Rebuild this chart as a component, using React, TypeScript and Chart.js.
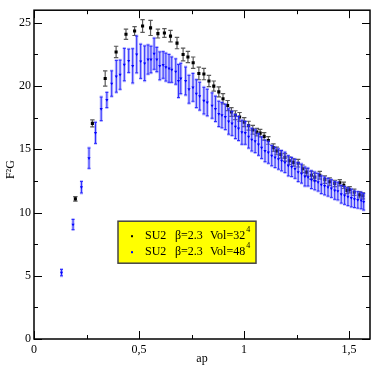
import React, { useEffect, useRef } from 'react';
import { Chart, registerables } from 'chart.js';
Chart.register(...registerables);

const xTickValues = [0, 0.5, 1, 1.5];
const yTickValues = [0, 5, 10, 15, 20, 25];
const xMinorTicks = [0.25, 0.75, 1.25];
const yMinorTicks = [2.5, 7.5, 12.5, 17.5, 22.5];

const vol32X = [0.197, 0.278, 0.339, 0.391, 0.438, 0.479, 0.517, 0.555, 0.590, 0.621, 0.650, 0.681, 0.710, 0.733, 0.758, 0.785, 0.809, 0.833, 0.856, 0.880, 0.900, 0.922, 0.940, 0.959, 0.979, 1.001, 1.022, 1.042, 1.061, 1.077, 1.096, 1.116, 1.140, 1.156, 1.175, 1.195, 1.216, 1.235, 1.258, 1.279, 1.298, 1.321, 1.337, 1.361, 1.385, 1.408, 1.432, 1.456, 1.475, 1.490, 1.503, 1.525, 1.550, 1.566];
const vol32Y = [11.08, 17.05, 20.6, 22.7, 24.1, 24.35, 24.75, 24.6, 24.15, 24.2, 23.95, 23.4, 22.5, 22.3, 21.85, 21.0, 20.95, 20.4, 20.0, 19.54, 19.0, 18.46, 17.95, 17.7, 17.56, 17.15, 16.87, 16.54, 16.36, 16.28, 16.02, 15.7, 15.13, 14.87, 14.6, 14.36, 14.1, 13.97, 13.9, 13.46, 13.2, 12.95, 12.8, 12.95, 12.6, 12.44, 12.3, 12.36, 12.15, 11.75, 11.8, 11.6, 11.4, 11.33];
const vol32Err = [0.18, 0.28, 0.6, 0.45, 0.4, 0.35, 0.5, 0.6, 0.35, 0.35, 0.45, 0.45, 0.5, 0.45, 0.45, 0.5, 0.45, 0.45, 0.4, 0.4, 0.4, 0.4, 0.35, 0.35, 0.35, 0.35, 0.35, 0.35, 0.3, 0.3, 0.3, 0.3, 0.3, 0.3, 0.3, 0.3, 0.3, 0.3, 0.3, 0.3, 0.3, 0.3, 0.3, 0.3, 0.3, 0.3, 0.25, 0.25, 0.25, 0.25, 0.25, 0.25, 0.25, 0.25];

const vol48X = [0.131, 0.186, 0.226, 0.262, 0.293, 0.320, 0.347, 0.370, 0.392, 0.410, 0.430, 0.451, 0.470, 0.489, 0.508, 0.527, 0.543, 0.557, 0.572, 0.585, 0.599, 0.615, 0.628, 0.643, 0.656, 0.675, 0.688, 0.699, 0.722, 0.738, 0.757, 0.773, 0.789, 0.809, 0.825, 0.848, 0.864, 0.880, 0.895, 0.911, 0.927, 0.943, 0.959, 0.974, 0.990, 1.006, 1.022, 1.037, 1.053, 1.069, 1.084, 1.100, 1.116, 1.132, 1.148, 1.164, 1.179, 1.195, 1.211, 1.227, 1.243, 1.258, 1.274, 1.290, 1.305, 1.321, 1.337, 1.353, 1.368, 1.384, 1.400, 1.416, 1.432, 1.447, 1.463, 1.479, 1.495, 1.511, 1.526, 1.542, 1.558, 1.570];
const vol48Y = [5.25, 9.05, 12.0, 14.3, 16.3, 18.2, 18.9, 20.2, 20.77, 20.9, 21.7, 22.0, 21.6, 22.5, 21.96, 21.8, 22.1, 22.1, 22.56, 22.1, 21.6, 21.67, 21.5, 21.4, 21.3, 21.15, 20.4, 20.6, 20.4, 19.75, 19.9, 19.4, 19.2, 18.85, 18.7, 18.46, 18.2, 17.8, 17.7, 17.56, 17.2, 17.05, 16.8, 16.65, 16.35, 16.3, 16.0, 15.77, 15.64, 15.38, 15.13, 14.87, 14.75, 14.5, 14.36, 14.23, 14.1, 13.97, 13.7, 13.6, 13.46, 13.2, 13.08, 12.85, 12.8, 12.6, 12.5, 12.4, 12.2, 12.1, 12.0, 11.9, 11.75, 11.7, 11.45, 11.35, 11.25, 11.15, 11.05, 11.0, 10.95, 10.85];
const vol48Err = [0.25, 0.4, 0.45, 0.8, 0.83, 0.93, 0.6, 1.0, 1.25, 1.15, 1.28, 0.92, 1.35, 1.45, 1.35, 1.37, 1.15, 1.05, 1.23, 0.96, 1.1, 1.05, 1.1, 1.1, 1.0, 1.0, 1.3, 1.2, 1.1, 1.1, 1.1, 1.1, 1.1, 1.05, 1.05, 1.0, 1.0, 1.0, 1.0, 1.0, 1.0, 0.95, 0.95, 0.95, 0.95, 0.9, 0.9, 0.9, 0.9, 0.85, 0.85, 0.85, 0.85, 0.8, 0.8, 0.8, 0.8, 0.8, 0.8, 0.75, 0.75, 0.75, 0.75, 0.75, 0.7, 0.7, 0.7, 0.7, 0.7, 0.7, 0.7, 0.7, 0.7, 0.7, 0.7, 0.7, 0.7, 0.7, 0.65, 0.65, 0.65, 0.65];

const seriesLabels = ['SU2', 'SU2'];
const betaLabels = ['\u03b2=2.3', '\u03b2=2.3'];
const volLabels = ['Vol=32', 'Vol=48'];
const volPowers = ['4', '4'];

const FONT = "'Liberation Serif', 'Times New Roman', serif";

const errorBarPlugin = {
  id: 'errorBars',
  beforeDatasetDraw(chart: any, args: any) {
    const ds = chart.data.datasets[args.index];
    const errs: number[] = ds.errors;
    if (!errs) return;
    const ctx = chart.ctx;
    const xs = chart.scales.x;
    const ys = chart.scales.y;
    ctx.save();
    const strokes: [string, number][] = ds.errStrokes;
    strokes.forEach(([color, width]) => {
      ctx.strokeStyle = color;
      ctx.lineWidth = width;
      ds.data.forEach((p: any, i: number) => {
        const px = xs.getPixelForValue(p.x);
        const top = ys.getPixelForValue(p.y + errs[i]);
        const bot = ys.getPixelForValue(p.y - errs[i]);
        const c = ds.capHalf;
        ctx.beginPath();
        ctx.moveTo(px, top);
        ctx.lineTo(px, bot);
        ctx.moveTo(px - c, top);
        ctx.lineTo(px + c, top);
        ctx.moveTo(px - c, bot);
        ctx.lineTo(px + c, bot);
        ctx.stroke();
      });
    });
    ctx.restore();
  },
};

const framePlugin = {
  id: 'frame',
  afterDraw(chart: any) {
    const ctx = chart.ctx;
    const { left, right, top, bottom } = chart.chartArea;
    const xs = chart.scales.x;
    const ys = chart.scales.y;
    ctx.save();
    ctx.strokeStyle = '#000';
    ctx.lineWidth = 1;
    const tick = (x1: number, y1: number, x2: number, y2: number) => {
      ctx.beginPath();
      ctx.moveTo(x1, y1);
      ctx.lineTo(x2, y2);
      ctx.stroke();
    };
    xTickValues.forEach((v) => {
      const p = Math.round(xs.getPixelForValue(v)) + 0.5;
      tick(p, bottom, p, bottom - 8);
      tick(p, top, p, top + 8);
    });
    xMinorTicks.forEach((v) => {
      const p = Math.round(xs.getPixelForValue(v)) + 0.5;
      tick(p, bottom, p, bottom - 4);
      tick(p, top, p, top + 4);
    });
    yTickValues.forEach((v) => {
      const p = Math.round(ys.getPixelForValue(v)) + 0.5;
      tick(left, p, left + 8, p);
      tick(right, p, right - 8, p);
    });
    yMinorTicks.forEach((v) => {
      const p = Math.round(ys.getPixelForValue(v)) + 0.5;
      tick(left, p, left + 4, p);
      tick(right, p, right - 4, p);
    });
    ctx.lineWidth = 1.5;
    ctx.strokeRect(left, top, right - left, bottom - top);

    // axis titles
    ctx.fillStyle = '#000';
    ctx.font = `12px ${FONT}`;
    ctx.textAlign = 'center';
    ctx.textBaseline = 'middle';
    ctx.save();
    ctx.translate(11, (top + bottom) / 2 - 5);
    ctx.rotate(-Math.PI / 2);
    ctx.fillText('F\u00b2G', 0, 0);
    ctx.restore();
    ctx.fillText('ap', (left + right) / 2, 359);

    // legend box
    const bx = left + 84;
    const by = top + 211;
    const bw = 138;
    const bh = 42;
    ctx.fillStyle = '#ffff00';
    ctx.fillRect(bx, by, bw, bh);
    ctx.strokeStyle = '#444';
    ctx.lineWidth = 1.5;
    ctx.strokeRect(bx, by, bw, bh);
    const rows = [by + 15, by + 31];
    const colors = ['#000', '#0000ff'];
    rows.forEach((ry, i) => {
      ctx.fillStyle = colors[i];
      ctx.fillRect(bx + 13, ry - 1, 2, 2);
      ctx.fillStyle = '#000';
      ctx.font = `12px ${FONT}`;
      ctx.textAlign = 'left';
      ctx.textBaseline = 'middle';
      ctx.fillText(seriesLabels[i], bx + 27, ry);
      ctx.fillText(betaLabels[i], bx + 57, ry);
      ctx.fillText(volLabels[i], bx + 92, ry);
      const w = ctx.measureText(volLabels[i]).width;
      ctx.font = `8px ${FONT}`;
      ctx.fillText(volPowers[i], bx + 93 + w, ry - 6);
    });
    ctx.restore();
  },
};

export default function App() {
  const ref = useRef<HTMLCanvasElement>(null);
  useEffect(() => {
    document.body.style.margin = '0';
    const canvas = ref.current!;
    const chart = new Chart(canvas, {
      type: 'scatter',
      data: {
        datasets: [
          {
            label: 'Vol=48',
            data: vol48X.map((x, i) => ({ x, y: vol48Y[i] })),
            errors: vol48Err,
            errStrokes: [['rgba(110,110,255,0.45)', 3], ['rgba(30,30,255,0.9)', 1]],
            capHalf: 1.5,
            pointStyle: 'triangle',
            rotation: 180,
            radius: 1.8,
            backgroundColor: '#0000ff',
            borderColor: '#0000ff',
            borderWidth: 0,
          } as any,
          {
            label: 'Vol=32',
            data: vol32X.map((x, i) => ({ x, y: vol32Y[i] })),
            errors: vol32Err,
            errStrokes: [['rgba(60,60,60,0.85)', 1.2]],
            capHalf: 2.2,
            pointStyle: 'rect',
            radius: 2.2,
            backgroundColor: '#000',
            borderColor: '#000',
            borderWidth: 0,
          } as any,
        ],
      },
      options: {
        animation: false,
        responsive: false,
        maintainAspectRatio: false,
        events: [],
        layout: { padding: { top: 2, right: 2, left: 0, bottom: 0 } },
        plugins: { legend: { display: false }, tooltip: { enabled: false } },
        scales: {
          x: {
            type: 'linear',
            min: 0,
            max: 1.6,
            grid: { display: false, drawTicks: false },
            border: { display: false },
            afterBuildTicks: (s: any) => {
              s.ticks = xTickValues.map((v) => ({ value: v }));
            },
            afterFit: (s: any) => {
              s.height = 28;
            },
            ticks: {
              color: '#000',
              padding: 4,
              maxRotation: 0,
              font: { family: FONT, size: 12 },
              callback: (v: any) => String(v).replace('.', ','),
            },
          },
          y: {
            type: 'linear',
            min: 0,
            max: 26,
            grid: { display: false, drawTicks: false },
            border: { display: false },
            afterBuildTicks: (s: any) => {
              s.ticks = yTickValues.map((v) => ({ value: v }));
            },
            afterFit: (s: any) => {
              s.width = 34;
            },
            ticks: {
              color: '#000',
              padding: 3,
              font: { family: FONT, size: 12 },
              callback: (v: any) => String(v),
            },
          },
        },
      },
      plugins: [errorBarPlugin, framePlugin],
    });
    return () => chart.destroy();
  }, []);
  return <canvas ref={ref} width={374} height={367} style={{ display: 'block' }} />;
}
